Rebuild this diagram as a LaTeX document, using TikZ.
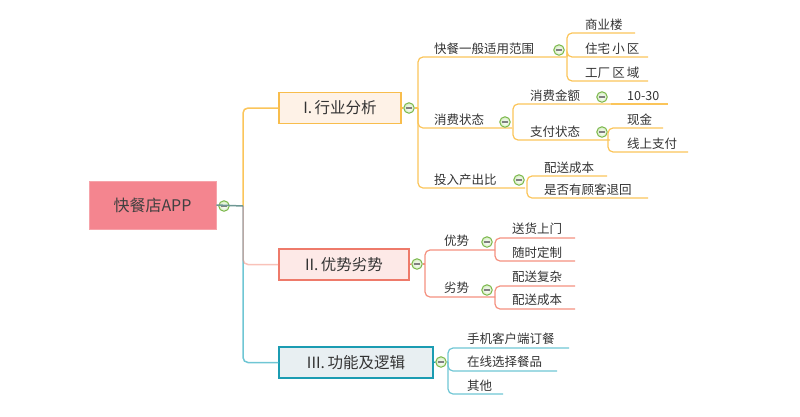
\documentclass[tikz,border=0pt]{standalone}
\usepackage{fontspec}
\setmainfont{Noto Sans CJK SC}
\definecolor{txt}{HTML}{333333}
\definecolor{oline}{HTML}{FBC55A}
\definecolor{oborder}{HTML}{F8BD4C}
\definecolor{ofill}{HTML}{FEF2E7}
\definecolor{sline}{HTML}{F4907F}
\definecolor{sborder}{HTML}{EE7A6A}
\definecolor{sfill}{HTML}{FDE9E7}
\definecolor{tline}{HTML}{6FC6D4}
\definecolor{tborder}{HTML}{1B9CB2}
\definecolor{tfill}{HTML}{E8EFF2}
\definecolor{gline}{HTML}{6E9894}
\definecolor{rootfill}{HTML}{F4858F}
\definecolor{rootborder}{HTML}{F6A3AA}
\definecolor{btnline}{HTML}{7CB84C}
\definecolor{btnfill}{HTML}{D6EDC4}
\begin{document}
\begin{tikzpicture}[x=1pt,y=-1pt,
  every node/.style={text=txt},
  btn/.style={circle,draw=btnline,line width=1pt,inner color=white,outer color=btnfill,minimum size=10.5pt,inner sep=0pt,
    path picture={\draw[gray,line width=1.3pt] ([xshift=2.6pt]path picture bounding box.west) -- ([xshift=-2.6pt]path picture bounding box.east);}},
  rootbox/.style={draw=rootborder,fill=rootfill,line width=0.8pt,minimum width=127pt,minimum height=48pt,inner sep=0pt,font=\fontsize{16}{18}\selectfont,text=black!75},
  box/.style={line width=1.1pt,minimum height=31pt,inner sep=0pt,font=\fontsize{15.5}{18}\selectfont},
  midlbl/.style={anchor=west,inner sep=0pt,font=\fontsize{12.5}{14}\selectfont},
  leaflbl/.style={anchor=west,inner sep=0pt,font=\fontsize{12.5}{14}\selectfont},
  lo/.style={draw=oline,line width=1.2pt,rounded corners=5pt},
  ls/.style={draw=sline,line width=1.2pt,rounded corners=5pt},
  lt/.style={draw=tline,line width=1.2pt,rounded corners=5pt},
]
\useasboundingbox (0,0) rectangle (800,416);

% ---------- root ----------
\node[rootbox] (root) at (152.5,205) {快餐店APP};
\node[btn] (rb) at (224,206) {};
\coordinate (rj) at (243,206);

% ---------- level 1 boxes ----------
\node[box,draw=oborder,fill=ofill,minimum width=122pt] (bI) at (340,108) {I.\,行业分析};
\node[box,draw=sborder,fill=sfill,minimum width=130pt] (bII) at (344,264.5) {II.\,优势劣势};
\node[box,draw=tborder,fill=tfill,minimum width=154pt] (bIII) at (356,362.5) {III.\,功能及逻辑};

\draw[lt,line width=1.5pt] (rj) |- (bIII.west);
\draw[ls,line width=1.5pt,draw opacity=0.55] (rj) |- (bII.west);
\draw[lo,line width=1.5pt] (rj) |- (bI.west);
\draw[gline,line width=1.5pt] (root.east) -- (rj);

\node[btn] (bIb) at (409,108) {};
\node[btn] (bIIb) at (417,264) {};
\node[btn] (bIIIb) at (441,362) {};
\draw[oborder,line width=1.2pt] (bI.east) -- (bIb.west);
\draw[sborder,line width=1.2pt] (bII.east) -- (bIIb.west);
\draw[tborder,line width=1.2pt] (bIII.east) -- (bIIIb.west);

% ---------- branch I ----------
\coordinate (jI) at (418,108);
\draw[lo] (bIb.east) -- (jI);
% a1
\node[midlbl] (a1) at (434,49) {快餐一般适用范围};
\coordinate (a1e) at (566,57);
\draw[lo] (jI) |- (a1e);
\node[btn] (a1b) at (559,50) {};
\coordinate (a1j) at (567,57);
\node[leaflbl] (a11) at (585,25) {商业楼};
\node[leaflbl] (a12) at (585,49) {住宅\,小\,区};
\node[leaflbl] (a13) at (585,73) {工厂\,区\,域};
\coordinate (a11e) at (635,33);
\coordinate (a12e) at (648,57);
\coordinate (a13e) at (648,81);
\draw[lo] (a1j) |- (a11e);
\draw[lo] (a1j) |- (a12e);
\draw[lo] (a1j) |- (a13e);
% a2
\node[midlbl] (a2) at (434,120) {消费状态};
\coordinate (a2e) at (512,128);
\draw[lo] (jI) |- (a2e);
\node[btn] (a2b) at (505,122) {};
\coordinate (a2j) at (513,128);
\node[midlbl] (a21) at (530,96) {消费金额};
\node[midlbl] (a22) at (530,132) {支付状态};
\coordinate (a21e) at (611,104);
\coordinate (a22e) at (610,140);
\draw[lo] (a2j) |- (a21e);
\draw[lo] (a2j) |- (a22e);
\node[btn] (a21b) at (602,97) {};
\node[leaflbl] (a211) at (627,96) {10-30};
\coordinate (a211e) at (668,104);
\draw[lo] (a21e) -- (a211e);
\node[btn] (a22b) at (602,132) {};
\coordinate (a22j) at (608,140);
\node[leaflbl] (a221) at (627,120) {现金};
\node[leaflbl] (a222) at (627,144) {线上支付};
\coordinate (a221e) at (663,128);
\coordinate (a222e) at (688,152);
\draw[lo] (a22j) |- (a221e);
\draw[lo] (a22j) |- (a222e);
% a3
\node[midlbl] (a3) at (434,180) {投入产出比};
\coordinate (a3e) at (525,188);
\draw[lo] (jI) |- (a3e);
\node[btn] (a3b) at (519,180) {};
\coordinate (a3j) at (527,188);
\node[leaflbl] (a31) at (544,168) {配送成本};
\node[leaflbl] (a32) at (544,190) {是否有顾客退回};
\coordinate (a31e) at (607,176);
\coordinate (a32e) at (648,198);
\draw[lo] (a3j) |- (a31e);
\draw[lo] (a3j) |- (a32e);

% ---------- branch II ----------
\coordinate (jII) at (425,264);
\draw[ls] (bIIb.east) -- (jII);
\node[midlbl] (b1) at (444,241) {优势};
\node[midlbl] (b2) at (444,288) {劣势};
\coordinate (b1e) at (495,250);
\coordinate (b2e) at (495,297);
\draw[ls] (jII) |- (b1e);
\draw[ls] (jII) |- (b2e);
\node[btn] (b1b) at (487,242) {};
\node[btn] (b2b) at (487,290) {};
\node[leaflbl] (b11) at (512,229) {送货上门};
\node[leaflbl] (b12) at (512,253) {随时定制};
\node[leaflbl] (b21) at (512,277) {配送复杂};
\node[leaflbl] (b22) at (512,300) {配送成本};
\coordinate (b11e) at (575,238);
\coordinate (b12e) at (575,261);
\coordinate (b21e) at (575,286);
\coordinate (b22e) at (575,309);
\draw[ls] (b1e) |- (b11e);
\draw[ls] (b1e) |- (b12e);
\draw[ls] (b2e) |- (b21e);
\draw[ls] (b2e) |- (b22e);

% ---------- branch III ----------
\coordinate (jIII) at (448,362);
\draw[lt] (bIIIb.east) -- (jIII);
\node[leaflbl] (c1) at (467,339) {手机客户端订餐};
\node[leaflbl] (c2) at (467,362) {在线选择餐品};
\node[leaflbl] (c3) at (467,386) {其他};
\coordinate (c1e) at (569,348);
\coordinate (c2e) at (557,371);
\coordinate (c3e) at (503,394);
\draw[lt] (jIII) |- (c1e);
\draw[lt] (jIII) |- (c2e);
\draw[lt] (jIII) |- (c3e);
\end{tikzpicture}
\end{document}
